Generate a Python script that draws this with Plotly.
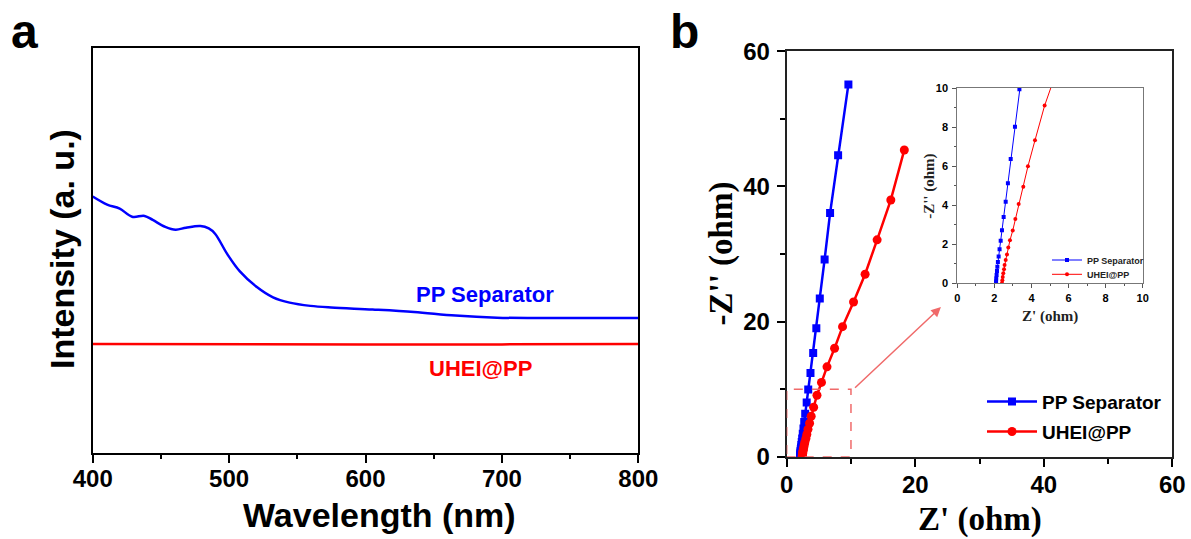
import plotly.graph_objects as go

W, H = 1191, 539

# ---------------- Panel a data (UV-vis) ----------------
wl_blue = [400, 410.6, 419.8, 428.9, 438, 444, 453.2, 460.8, 468.4, 479, 485.1, 489.7,
           498.8, 507.9, 520.1, 532.2, 544.4, 559.6, 574.8, 605.2, 635.6, 666, 696.4, 726.7, 800]
int_blue = [63.3, 61.3, 60.3, 58.3, 58.5, 57.5, 55.8, 55.1, 55.6, 56.0, 55.4, 54.1,
            49.0, 44.8, 41.0, 38.4, 37.1, 36.3, 35.9, 35.4, 34.8, 33.9, 33.4, 33.3, 33.3]
wl_red = [400, 500, 600, 700, 800]
int_red = [26.9, 26.8, 26.8, 26.8, 26.9]
xticks_a = [400, 500, 600, 700, 800]

# ---------------- Panel b data (EIS Nyquist) ----------------
zre_pp = [2.09, 2.09, 2.10, 2.12, 2.14, 2.16, 2.19, 2.23, 2.28, 2.34, 2.41, 2.50, 2.61, 2.73,
          2.88, 3.11, 3.35, 3.70, 4.12, 4.61, 5.15, 5.90, 6.75, 8.0, 9.60]
zim_pp = [0.0, 0.09, 0.24, 0.43, 0.63, 0.85, 1.09, 1.37, 1.74, 2.18, 2.71, 3.40, 4.18, 5.12,
          6.37, 8.02, 9.93, 12.4, 15.35, 19.0, 23.4, 29.2, 36.05, 44.6, 55.1]
zre_uh = [2.41, 2.43, 2.45, 2.48, 2.52, 2.55, 2.61, 2.68, 2.75, 2.84, 2.99, 3.13, 3.31, 3.56,
          3.81, 4.19, 4.71, 5.41, 6.27, 7.45, 8.69, 10.4, 12.2, 14.07, 16.2, 18.3]
zim_uh = [0.02, 0.15, 0.32, 0.51, 0.72, 0.94, 1.19, 1.48, 1.83, 2.20, 2.70, 3.29, 4.06, 4.95,
          5.99, 7.32, 9.10, 11.0, 13.3, 16.05, 19.25, 22.9, 27.0, 32.1, 38.0, 45.4]
ticks_b = [0, 20, 40, 60]
ticks_inset = [0, 2, 4, 6, 8, 10]

BLUE = "#0000ff"
RED = "#ff0000"
PINK = "#f06a6a"
SANS = "Liberation Sans, Arial, sans-serif"
SERIF = "Liberation Serif, Times New Roman, serif"


def px(x):
    return x / W


def py(y):
    return 1 - y / H


fig = go.Figure()

# Panel a
fig.add_trace(go.Scatter(x=wl_blue, y=int_blue, mode="lines", line=dict(color=BLUE, width=2.5, shape="spline"),
                         xaxis="x", yaxis="y", showlegend=False))
fig.add_trace(go.Scatter(x=wl_red, y=int_red, mode="lines", line=dict(color=RED, width=2.5),
                         xaxis="x", yaxis="y", showlegend=False))

# Panel b main
fig.add_trace(go.Scatter(x=zre_pp, y=zim_pp, mode="lines+markers", name="PP Separator",
                         line=dict(color=BLUE, width=2.5), marker=dict(symbol="square", size=8, color=BLUE),
                         xaxis="x2", yaxis="y2", legend="legend"))
fig.add_trace(go.Scatter(x=zre_uh, y=zim_uh, mode="lines+markers", name="UHEI@PP",
                         line=dict(color=RED, width=2.5), marker=dict(symbol="circle", size=9, color=RED),
                         xaxis="x2", yaxis="y2", legend="legend2"))

# Inset
fig.add_trace(go.Scatter(x=zre_pp, y=zim_pp, mode="lines+markers", name="PP Separator",
                         line=dict(color=BLUE, width=1), marker=dict(symbol="square", size=4, color=BLUE),
                         xaxis="x3", yaxis="y3", legend="legend3"))
fig.add_trace(go.Scatter(x=zre_uh, y=zim_uh, mode="lines+markers", name="UHEI@PP",
                         line=dict(color=RED, width=1), marker=dict(symbol="circle", size=4, color=RED),
                         xaxis="x3", yaxis="y3", legend="legend4"))

tickfont_a = dict(family=SANS, size=24, color="black", weight="bold")
tickfont_b = dict(family=SANS, size=24, color="black", weight="bold")
tickfont_i = dict(family=SANS, size=11, color="black", weight="bold")

leg_main_font = dict(family=SANS, size=19, color="black", weight="bold")
leg_in_font = dict(family=SANS, size=9, color="#222", weight="bold")

fig.update_layout(
    width=W, height=H, margin=dict(l=0, r=0, t=0, b=0, autoexpand=False),
    paper_bgcolor="white", plot_bgcolor="white",
    xaxis=dict(domain=[px(92.7), px(638.3)], anchor="y", range=[400, 800], tickvals=xticks_a,
               ticks="outside", ticklen=8, tickwidth=1.5, tickcolor="black", automargin=False,
               minor=dict(dtick=50, tick0=400, ticks="outside", ticklen=4, tickwidth=1.5, tickcolor="black"),
               showline=True, linecolor="black", linewidth=1.5, mirror=True, showgrid=False, zeroline=False,
               tickfont=tickfont_a, ticklabelstandoff=-5),
    yaxis=dict(domain=[py(453), py(47.7)], anchor="x", range=[0, 100], showticklabels=False, ticks="",
               automargin=False,
               showline=True, linecolor="black", linewidth=1.5, mirror=True, showgrid=False, zeroline=False),
    xaxis2=dict(domain=[px(786.7), px(1172.3)], anchor="y2", range=[0, 60], tickvals=ticks_b,
                ticks="outside", ticklen=8, tickwidth=1.5, tickcolor="black", automargin=False,
                minor=dict(dtick=10, tick0=0, ticks="outside", ticklen=5, tickwidth=1.5, tickcolor="black"),
                showline=True, linecolor="#222", linewidth=2, mirror=True, showgrid=False, zeroline=False,
                tickfont=tickfont_b, ticklabelstandoff=-3),
    yaxis2=dict(domain=[py(456.7), py(51.3)], anchor="x2", range=[0, 60], tickvals=ticks_b,
                ticks="outside", ticklen=8, tickwidth=1.5, tickcolor="black", automargin=False,
                minor=dict(dtick=10, tick0=0, ticks="outside", ticklen=5, tickwidth=1.5, tickcolor="black"),
                showline=True, linecolor="#222", linewidth=2, mirror=True, showgrid=False, zeroline=False,
                tickfont=tickfont_b, ticklabelstandoff=2),
    xaxis3=dict(domain=[px(957.3), px(1142.7)], anchor="y3", range=[0, 10], tickvals=ticks_inset,
                ticks="outside", ticklen=4, tickwidth=1, tickcolor="#555", automargin=False,
                minor=dict(dtick=1, tick0=0, ticks="outside", ticklen=2, tickwidth=1, tickcolor="#555"),
                showline=True, linecolor="#777", linewidth=1, mirror=True, showgrid=False, zeroline=False,
                tickfont=tickfont_i, ticklabelstandoff=0),
    yaxis3=dict(domain=[py(283.3), py(88)], anchor="x3", range=[0, 10], tickvals=ticks_inset,
                ticks="outside", ticklen=4, tickwidth=1, tickcolor="#555", automargin=False,
                minor=dict(dtick=1, tick0=0, ticks="outside", ticklen=2, tickwidth=1, tickcolor="#555"),
                showline=True, linecolor="#777", linewidth=1, mirror=True, showgrid=False, zeroline=False,
                tickfont=tickfont_i, ticklabelstandoff=2),
    legend=dict(x=px(982), y=py(401.7), xanchor="left", yanchor="middle", bgcolor="rgba(0,0,0,0)",
                font=leg_main_font, itemwidth=50),
    legend2=dict(x=px(982), y=py(431.7), xanchor="left", yanchor="middle", bgcolor="rgba(0,0,0,0)",
                 font=leg_main_font, itemwidth=50),
    legend3=dict(x=px(1047), y=py(260), xanchor="left", yanchor="middle", bgcolor="rgba(0,0,0,0)",
                 font=leg_in_font, itemwidth=30),
    legend4=dict(x=px(1047), y=py(274.3), xanchor="left", yanchor="middle", bgcolor="rgba(0,0,0,0)",
                 font=leg_in_font, itemwidth=30),
)

# dashed zoom box
fig.add_shape(type="rect", xref="x2", yref="y2", x0=0, y0=0, x1=10, y1=10,
              line=dict(color=PINK, width=1.5, dash="dash"))


def label(x, y, text, font, angle=0):
    return dict(xref="paper", yref="paper", x=px(x), y=py(y), xanchor="center", yanchor="middle",
                text=text, showarrow=False, textangle=angle, font=font)


annotations = [
    # arrow to inset
    dict(xref="x2", yref="y2", axref="x2", ayref="y2", x=24.0, y=22.15, ax=10.4, ay=10.0,
         text="", showarrow=True, arrowhead=2, arrowsize=1.3, arrowwidth=1.5, arrowcolor=PINK),
    label(24, 31, "a", dict(family=SANS, size=48, color="black", weight="bold")),
    label(685, 31, "b", dict(family=SANS, size=48, color="black", weight="bold")),
    label(379.4, 515, "Wavelength (nm)", dict(family=SANS, size=34, color="black", weight="bold")),
    label(62, 249, "Intensity (a. u.)", dict(family=SANS, size=34, color="black", weight="bold"), -90),
    label(485, 294, "PP Separator", dict(family=SANS, size=22, color=BLUE, weight="bold")),
    label(480, 368.5, "UHEI@PP", dict(family=SANS, size=22, color=RED, weight="bold")),
    label(979.5, 519, "Z' (ohm)", dict(family=SERIF, size=33, color="black", weight="bold")),
    label(721, 253.5, "-Z'' (ohm)", dict(family=SERIF, size=33, color="black", weight="bold"), -90),
    label(1050, 316, "Z' (ohm)", dict(family=SERIF, size=15, color="#222", weight="bold")),
    label(929.3, 186.5, "-Z'' (ohm)", dict(family=SERIF, size=15, color="#222", weight="bold"), -90),
]
fig.update_layout(annotations=annotations)

fig.write_html("out.html", config={"displayModeBar": False},
               post_script="document.body.style.margin='0px';document.body.style.overflow='hidden';")
